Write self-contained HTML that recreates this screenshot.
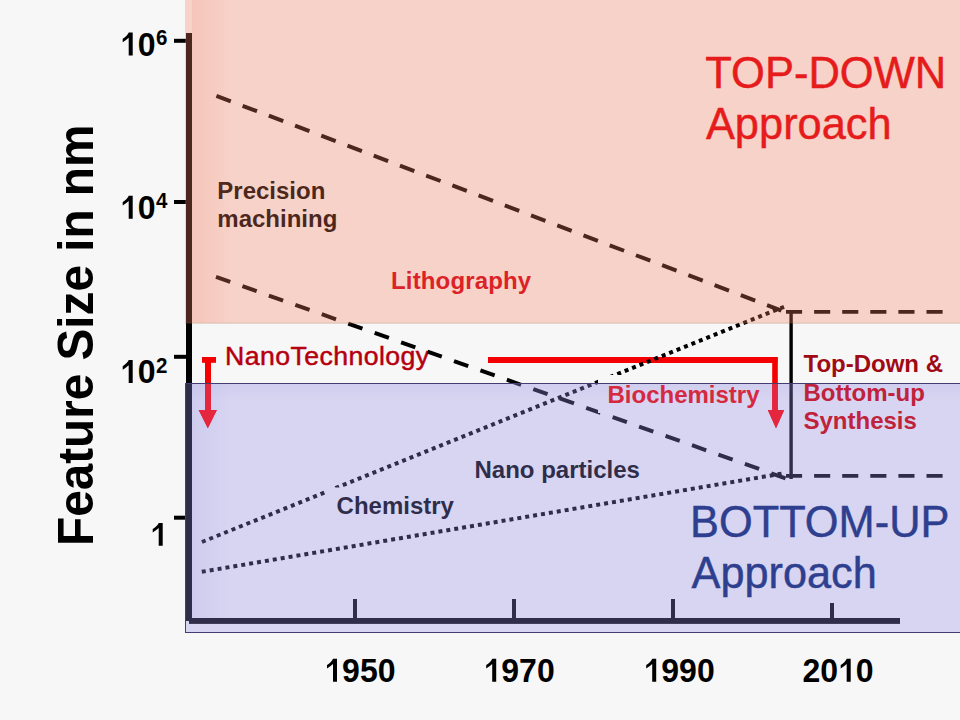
<!DOCTYPE html>
<html><head><meta charset="utf-8">
<style>
html,body{margin:0;padding:0;width:960px;height:720px;overflow:hidden;background:#f7f7f7;}
svg{position:absolute;left:0;top:0;display:block;}
text{font-family:"Liberation Sans", sans-serif;}
.b{font-weight:bold;}
</style></head>
<body>
<svg width="960" height="720" viewBox="0 0 960 720">
<defs>
<linearGradient id="pl" x1="0" y1="0" x2="1" y2="0"><stop offset="0" stop-color="rgb(235,110,90)" stop-opacity="0.13"/><stop offset="1" stop-color="rgb(235,110,90)" stop-opacity="0"/></linearGradient>
<linearGradient id="bl" x1="0" y1="0" x2="1" y2="0"><stop offset="0" stop-color="rgb(120,110,200)" stop-opacity="0.10"/><stop offset="1" stop-color="rgb(120,110,200)" stop-opacity="0"/></linearGradient>
<linearGradient id="bt" x1="0" y1="0" x2="0" y2="1"><stop offset="0" stop-color="rgb(120,110,200)" stop-opacity="0.08"/><stop offset="1" stop-color="rgb(120,110,200)" stop-opacity="0"/></linearGradient>
<path id="one" d="M813,0 L557,0 L557,1089 Q380,930 173,812 L173,1028 Q290,1090 420,1220 Q520,1330 560,1409 L813,1409 Z"/></defs>
<rect x="0" y="0" width="960" height="720" fill="#f7f7f7"/>
<!-- axes -->
<rect x="186" y="33" width="6" height="588" fill="#000"/>
<rect x="189" y="618" width="711" height="5.9" fill="#000"/>
<!-- y ticks -->
<rect x="174" y="38.8" width="12" height="4" fill="#000"/>
<rect x="174" y="200" width="12" height="4" fill="#000"/>
<rect x="174" y="354.8" width="12" height="4" fill="#000"/>
<rect x="174" y="515.7" width="12" height="4" fill="#000"/>
<!-- x ticks -->
<rect x="353" y="599" width="4" height="20" fill="#000"/>
<rect x="512" y="599" width="4" height="20" fill="#000"/>
<rect x="671" y="599" width="4" height="20" fill="#000"/>
<rect x="830" y="603" width="4" height="16" fill="#000"/>
<!-- red arrows -->
<g fill="#f40000">
<rect x="202" y="357" width="14" height="5.8"/>
<rect x="205" y="357" width="6" height="54"/>
<polygon points="198.7,410 216.9,410 207.8,428.2"/>
<rect x="488" y="357" width="289.5" height="6"/>
<rect x="772.2" y="357" width="5.6" height="54"/>
<polygon points="767.8,410 784.2,410 776,428.2"/>
</g>
<text x="225" y="365.2" font-size="26.67" fill="#b00010" letter-spacing="0.42" stroke="#c00010" stroke-width="0.5">NanoTechnology</text>
<!-- right vertical + horizontal dashes -->
<rect x="789.4" y="312" width="3.4" height="167" fill="#000"/>
<g stroke="#000" fill="none" stroke-width="3.8">
<line x1="786" y1="311.9" x2="943" y2="311.9" stroke-dasharray="16.1 12"/>
<line x1="786" y1="475.8" x2="943" y2="475.8" stroke-dasharray="16.1 12"/>
</g>
<!-- dashed / dotted lines -->
<g stroke="#000" fill="none">
<line x1="216.4" y1="95.8" x2="783" y2="311.15" stroke-width="4" stroke-dasharray="15.4 12.65"/>
<line x1="216" y1="276.8" x2="786" y2="478.5" stroke-width="4" stroke-dasharray="15.1 12.95"/>
<line x1="201.9" y1="542" x2="784" y2="306.8" stroke-width="4" stroke-dasharray="4 4"/>
<line x1="201.8" y1="571.8" x2="782" y2="473.6" stroke-width="4" stroke-dasharray="4 4"/>
</g>
<!-- text box backgrounds that hide lines -->
<rect x="325.5" y="487.5" width="136" height="36" fill="#f7f7f7"/>
<rect x="598" y="375" width="167" height="38" fill="#f7f7f7"/>
<!-- labels under overlay -->
<g class="b" font-size="24">
<text x="217.3" y="198.6" fill="#000">Precision</text>
<text x="217.3" y="227.1" fill="#000">machining</text>
<text x="803.5" y="371.7" fill="#a00a14">Top-Down &amp;</text>
<text x="474.5" y="477.5" fill="#000">Nano particles</text>
<text x="336.6" y="513.6" fill="#000">Chemistry</text>
</g>
<!-- overlays -->
<rect x="185" y="0" width="775" height="323" fill="rgba(247,128,96,0.305)"/>
<rect x="185" y="322.6" width="775" height="1.4" fill="rgba(160,90,70,0.22)"/>
<rect x="192" y="0" width="40" height="322.6" fill="url(#pl)"/>
<rect x="192" y="384" width="40" height="234" fill="url(#bl)"/>
<rect x="192" y="384" width="768" height="18" fill="url(#bt)"/>
<rect x="185.5" y="383.5" width="780" height="249" fill="rgba(149,142,231,0.316)" stroke="#463c72" stroke-width="1"/>
<g class="b" font-size="24">
<text x="391" y="288.7" fill="#dc2226" letter-spacing="0.15">Lithography</text>
<text x="607.5" y="402.7" fill="#d6283f">Biochemistry</text>
<text x="803.5" y="400.8" fill="#c0223c">Bottom-up</text>
<text x="803.5" y="429.3" fill="#c0223c">Synthesis</text>
</g>
<g fill="#e4263f">
<rect x="205" y="384" width="6" height="27"/>
<polygon points="198.7,410 216.9,410 207.8,428.2"/>
<rect x="772.2" y="384" width="5.6" height="27"/>
<polygon points="767.8,410 784.2,410 776,428.2"/>
</g>
<!-- top texts -->
<text transform="matrix(1,0,0,1.04,705.3,87.6)" font-size="42.67" textLength="240.9" lengthAdjust="spacingAndGlyphs" fill="#e61c1c" stroke="#e61c1c" stroke-width="0.45">TOP-DOWN</text>
<text transform="matrix(1,0,0,1.04,705.9,138.5)" font-size="42.67" textLength="185.8" lengthAdjust="spacingAndGlyphs" fill="#e61c1c" stroke="#e61c1c" stroke-width="0.45">Approach</text>
<text transform="matrix(1,0,0,1.04,690,536.7)" font-size="42.67" textLength="259.4" lengthAdjust="spacingAndGlyphs" fill="#2f3f8f" stroke="#2f3f8f" stroke-width="0.45">BOTTOM-UP</text>
<text transform="matrix(1,0,0,1.04,691.6,587.7)" font-size="42.67" textLength="185.1" lengthAdjust="spacingAndGlyphs" fill="#2f3f8f" stroke="#2f3f8f" stroke-width="0.45">Approach</text>
<!-- axis labels -->
<g class="b" fill="#000">
<use href="#one" transform="matrix(0.015625,0,0,-0.01625,120.00,55.5)"/>
<text transform="matrix(1,0,0,1.04,137.80,55.5)" font-size="32">0<tspan font-size="20.5" dy="-9.9" dx="0.3">6</tspan></text>
<use href="#one" transform="matrix(0.015625,0,0,-0.01625,120.00,218.7)"/>
<text transform="matrix(1,0,0,1.04,137.80,218.7)" font-size="32">0<tspan font-size="20.5" dy="-9.9" dx="0.3">4</tspan></text>
<use href="#one" transform="matrix(0.015625,0,0,-0.01625,120.00,382.9)"/>
<text transform="matrix(1,0,0,1.04,137.80,382.9)" font-size="32">0<tspan font-size="20.5" dy="-9.9" dx="0.3">2</tspan></text>
<use href="#one" transform="matrix(0.015625,0,0,-0.01625,150.00,545.8)"/>
<use href="#one" transform="matrix(0.015625,0,0,-0.01625,324.30,681.7)"/>
<text transform="matrix(1,0,0,1.04,324.30,681.7)" font-size="32"><tspan x="17.80">9</tspan><tspan x="35.59">5</tspan><tspan x="53.39">0</tspan></text>
<use href="#one" transform="matrix(0.015625,0,0,-0.01625,483.50,681.7)"/>
<text transform="matrix(1,0,0,1.04,483.50,681.7)" font-size="32"><tspan x="17.80">9</tspan><tspan x="35.59">7</tspan><tspan x="53.39">0</tspan></text>
<use href="#one" transform="matrix(0.015625,0,0,-0.01625,643.50,681.7)"/>
<text transform="matrix(1,0,0,1.04,643.50,681.7)" font-size="32"><tspan x="17.80">9</tspan><tspan x="35.59">9</tspan><tspan x="53.39">0</tspan></text>
<use href="#one" transform="matrix(0.015625,0,0,-0.01625,837.99,681.7)"/>
<text transform="matrix(1,0,0,1.04,802.40,681.7)" font-size="32"><tspan x="0.00">2</tspan><tspan x="17.80">0</tspan><tspan x="53.39">0</tspan></text>
<text transform="translate(92.7,546) rotate(-90) scale(1,1.04)" x="0" y="0" font-size="47.7">Feature Size in nm</text>
</g>
</svg>
</body></html>
